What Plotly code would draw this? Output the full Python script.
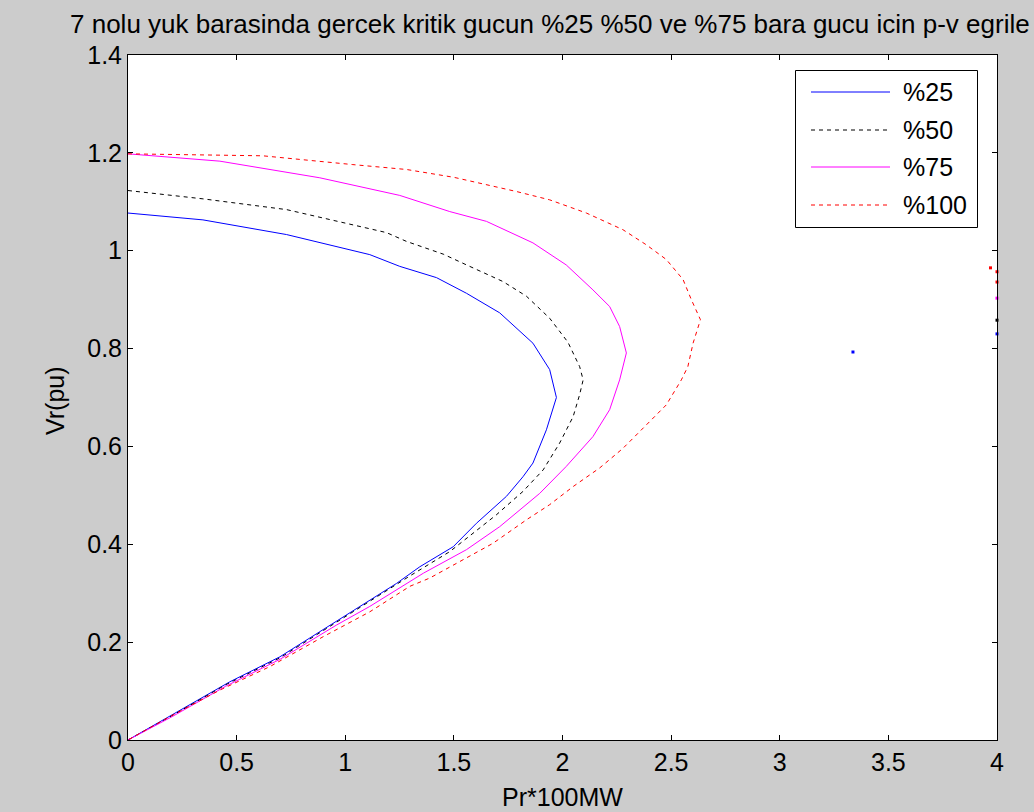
import plotly.graph_objects as go

# ---------------- data ----------------
series_names = ["%25", "%50", "%75", "%100"]

p25 = [0, 0.345, 0.73, 1.0, 1.113, 1.251, 1.42, 1.558, 1.711, 1.864, 1.941, 1.972,
       1.926, 1.864, 1.818, 1.742, 1.604, 1.497, 1.343, 1.236, 1.006, 0.699, 0.469, 0.193, 0]
v25 = [1.077, 1.063, 1.033, 1.005, 0.992, 0.968, 0.945, 0.913, 0.873, 0.811, 0.757, 0.700,
       0.634, 0.566, 0.538, 0.498, 0.443, 0.395, 0.354, 0.320, 0.256, 0.170, 0.119, 0.048, 0]

p50 = [0, 0.345, 0.73, 1.19, 1.282, 1.451, 1.558, 1.726, 1.834, 1.941, 2.025, 2.079, 2.095,
       2.079, 2.049, 1.987, 1.911, 1.818, 1.695, 1.588, 1.481, 1.3, 1.0, 0.7, 0.45, 0.2, 0]
v50 = [1.123, 1.106, 1.084, 1.037, 1.019, 0.993, 0.971, 0.937, 0.907, 0.862, 0.813, 0.763, 0.736,
       0.706, 0.661, 0.607, 0.552, 0.508, 0.460, 0.423, 0.385, 0.336, 0.252, 0.168, 0.113, 0.049, 0]

p75 = [0, 0.423, 0.883, 1.251, 1.481, 1.65, 1.864, 2.017, 2.140, 2.217, 2.263, 2.294,
       2.263, 2.217, 2.140, 2.017, 1.895, 1.711, 1.558, 1.36, 1.113, 0.960, 0.7, 0.45, 0.2, 0]
v75 = [1.198, 1.183, 1.149, 1.113, 1.080, 1.060, 1.016, 0.971, 0.920, 0.886, 0.845, 0.791,
       0.736, 0.675, 0.620, 0.559, 0.504, 0.436, 0.389, 0.341, 0.273, 0.235, 0.165, 0.110, 0.047, 0]

p100 = [0, 0.62, 1.035, 1.282, 1.50, 1.788, 1.941, 2.110, 2.278, 2.386, 2.478, 2.555, 2.593, 2.635,
        2.601, 2.577, 2.547, 2.478, 2.386, 2.278, 2.171, 2.049, 1.941, 1.834, 1.680, 1.512, 1.389,
        1.297, 1.113, 0.898, 0.653, 0.423, 0.193, 0]
v100 = [1.198, 1.194, 1.176, 1.166, 1.150, 1.121, 1.104, 1.077, 1.043, 1.012, 0.982, 0.941, 0.900, 0.859,
        0.811, 0.763, 0.736, 0.685, 0.644, 0.596, 0.556, 0.518, 0.481, 0.450, 0.402, 0.361, 0.331,
        0.314, 0.262, 0.211, 0.150, 0.102, 0.048, 0]

# stray isolated points
stray25_p = [3.337, 4.0]
stray25_v = [0.793, 0.830]
stray50_p = [4.0]
stray50_v = [0.858]
stray75_p = [4.0]
stray75_v = [0.903]
stray100_p = [3.97, 4.0, 4.0]
stray100_v = [0.965, 0.957, 0.936]

x_ticks = [0, 0.5, 1, 1.5, 2, 2.5, 3, 3.5, 4]
y_ticks = [0, 0.2, 0.4, 0.6, 0.8, 1.0, 1.2, 1.4]

# title as visible in the figure window (it runs past the right edge there)
title_text = "7 nolu yuk barasinda gercek kritik gucun %25 %50 ve %75 bara gucu icin p-v egrile"
x_title = "Pr*100MW"
y_title = "Vr(pu)"

# ---------------- styling ----------------
W, H = 1034, 812
L, R, T, B = 128, 997, 55, 740
FONT = "Arial, Liberation Sans, sans-serif"
colors = ["#0000ff", "#000000", "#ff00ff", "#ff0000"]
dashes = ["solid", "4px,4px", "solid", "4px,4px"]

curves = [(p25, v25), (p50, v50), (p75, v75), (p100, v100)]
strays = [(stray25_p, stray25_v), (stray50_p, stray50_v), (stray75_p, stray75_v), (stray100_p, stray100_v)]

fig = go.Figure()
for (px_, vy_), name, c, d in zip(curves, series_names, colors, dashes):
    fig.add_trace(go.Scatter(x=px_, y=vy_, mode="lines", name=name,
                             line=dict(color=c, width=1, dash=d), showlegend=False))
for (sx, sy), c in zip(strays, colors):
    fig.add_trace(go.Scatter(x=sx, y=sy, mode="markers", showlegend=False,
                             marker=dict(color=c, size=3, symbol="square", line=dict(width=0)),
                             cliponaxis=False))

def fx(px):
    return (px - L) / (R - L)

def fy(py):
    return (B - py) / (B - T)

shapes = []
annotations = []
# legend box
shapes.append(dict(type="rect", xref="paper", yref="paper",
                   x0=fx(795.5), x1=fx(977.5), y0=fy(227.5), y1=fy(70.5),
                   line=dict(color="black", width=1), fillcolor="white", layer="above"))
rows = [92, 130, 167, 205]
for name, c, d, ry in zip(series_names, colors, dashes, rows):
    shapes.append(dict(type="line", xref="paper", yref="paper",
                       x0=fx(811), x1=fx(890), y0=fy(ry), y1=fy(ry),
                       line=dict(color=c, width=1, dash=d), layer="above"))
    annotations.append(dict(text=name, xref="paper", yref="paper", x=fx(901), y=fy(ry),
                            xanchor="left", yanchor="middle", showarrow=False,
                            font=dict(family=FONT, size=25, color="black")))

# title (left-aligned where it starts in the reference window)
annotations.append(dict(text=title_text, xref="paper", yref="paper", x=fx(68), y=fy(24),
                        xanchor="left", yanchor="middle", showarrow=False,
                        font=dict(family=FONT, size=26, color="black")))
# y axis title
annotations.append(dict(text=y_title, xref="paper", yref="paper", x=fx(55), y=fy(401),
                        xanchor="center", yanchor="middle", showarrow=False, textangle=-90,
                        font=dict(family=FONT, size=25, color="black")))
# x axis title
annotations.append(dict(text=x_title, xref="paper", yref="paper", x=fx((L + R) / 2), y=fy(797),
                        xanchor="center", yanchor="middle", showarrow=False,
                        font=dict(family=FONT, size=25, color="black")))

axis_common = dict(showline=True, linecolor="black", linewidth=1, mirror="ticks",
                   ticks="inside", ticklen=5, tickcolor="black", tickwidth=1,
                   showgrid=False, zeroline=False,
                   tickfont=dict(family=FONT, size=25, color="black"))

fig.update_layout(
    width=W, height=H,
    paper_bgcolor="#cccccc", plot_bgcolor="white",
    margin=dict(l=L, r=W - R, t=T, b=H - B, pad=0),
    xaxis=dict(range=[0, 4], tickvals=x_ticks, **axis_common),
    yaxis=dict(range=[0, 1.4], tickvals=y_ticks, **axis_common),
    shapes=shapes, annotations=annotations,
    showlegend=False,
)

fig.write_html("out.html", config={"displayModeBar": False},
               post_script="document.body.style.margin='0';document.body.style.background='#cccccc';")
